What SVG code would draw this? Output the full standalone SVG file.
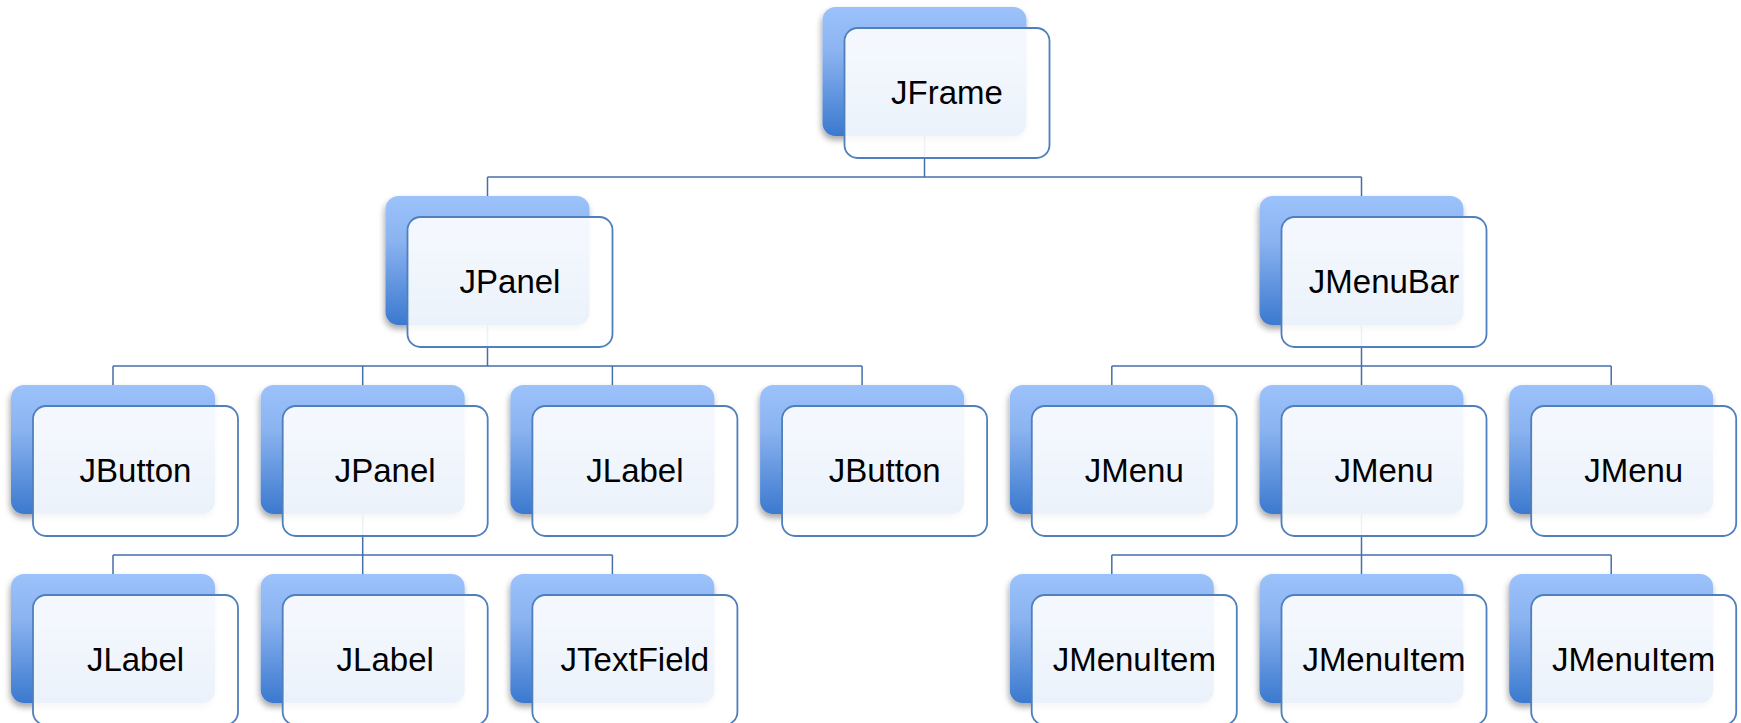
<svg xmlns="http://www.w3.org/2000/svg" width="1741" height="723" viewBox="0 0 1741 723">
<defs>
<linearGradient id="bg" x1="0" y1="0" x2="0" y2="1">
<stop offset="0" stop-color="#9cc2fb"/>
<stop offset="0.35" stop-color="#8ab3f0"/>
<stop offset="1" stop-color="#3b79cf"/>
</linearGradient>
<filter id="sh" x="-10%" y="-10%" width="125%" height="130%">
<feDropShadow dx="-1" dy="4" stdDeviation="3" flood-color="#000" flood-opacity="0.35"/>
</filter>
<g id="box">
<rect class="back" x="0" y="0" width="204" height="129" rx="13"/>
<rect class="front" x="22" y="21" width="205" height="130" rx="13"/>
</g>
</defs>
<style>
.back{fill:url(#bg);filter:url(#sh)}
.front{fill:#ffffff;fill-opacity:0.9;stroke:#4f7fbd;stroke-width:1.8}
.lbl{font-family:"Liberation Sans",Arial,sans-serif;font-size:33px;fill:#000;text-anchor:middle}
.con{fill:none;stroke:#4470aa;stroke-width:1.5}
</style>
<rect width="1741" height="723" fill="#ffffff"/>
<g id="connectors" class="con">
<path d="M924.5,136V177M487.5,177H1361.5M487.5,177V196M1361.5,177V196"/>
<path d="M487.5,325V366M113,366H862.1M113,366V385M362.7,366V385M612.4,366V385M862.1,366V385"/>
<path d="M1361.5,325V366M1111.8,366H1611.2M1111.8,366V385M1361.5,366V385M1611.2,366V385"/>
<path d="M362.7,514V555M113,555H612.4M113,555V574M362.7,555V574M612.4,555V574"/>
<path d="M1361.5,514V555M1111.8,555H1611.2M1111.8,555V574M1361.5,555V574M1611.2,555V574"/>
</g>
<g id="n-jframe" transform="translate(822.5,7)"><use href="#box"/><text class="lbl" x="124.5" y="97">JFrame</text></g>
<g id="n-jpanel1" transform="translate(385.5,196)"><use href="#box"/><text class="lbl" x="124.5" y="97">JPanel</text></g>
<g id="n-jmenubar" transform="translate(1259.5,196)"><use href="#box"/><text class="lbl" x="124.5" y="97">JMenuBar</text></g>
<g id="n-jbutton1" transform="translate(11,385)"><use href="#box"/><text class="lbl" x="124.5" y="97">JButton</text></g>
<g id="n-jpanel2" transform="translate(260.7,385)"><use href="#box"/><text class="lbl" x="124.5" y="97">JPanel</text></g>
<g id="n-jlabel1" transform="translate(510.4,385)"><use href="#box"/><text class="lbl" x="124.5" y="97">JLabel</text></g>
<g id="n-jbutton2" transform="translate(760.1,385)"><use href="#box"/><text class="lbl" x="124.5" y="97">JButton</text></g>
<g id="n-jmenu1" transform="translate(1009.8,385)"><use href="#box"/><text class="lbl" x="124.5" y="97">JMenu</text></g>
<g id="n-jmenu2" transform="translate(1259.5,385)"><use href="#box"/><text class="lbl" x="124.5" y="97">JMenu</text></g>
<g id="n-jmenu3" transform="translate(1509.2,385)"><use href="#box"/><text class="lbl" x="124.5" y="97">JMenu</text></g>
<g id="n-jlabel2" transform="translate(11,574)"><use href="#box"/><text class="lbl" x="124.5" y="97">JLabel</text></g>
<g id="n-jlabel3" transform="translate(260.7,574)"><use href="#box"/><text class="lbl" x="124.5" y="97">JLabel</text></g>
<g id="n-jtextfield" transform="translate(510.4,574)"><use href="#box"/><text class="lbl" x="124.5" y="97">JTextField</text></g>
<g id="n-jmenuitem1" transform="translate(1009.8,574)"><use href="#box"/><text class="lbl" x="124.5" y="97">JMenuItem</text></g>
<g id="n-jmenuitem2" transform="translate(1259.5,574)"><use href="#box"/><text class="lbl" x="124.5" y="97">JMenuItem</text></g>
<g id="n-jmenuitem3" transform="translate(1509.2,574)"><use href="#box"/><text class="lbl" x="124.5" y="97">JMenuItem</text></g>
</svg>
